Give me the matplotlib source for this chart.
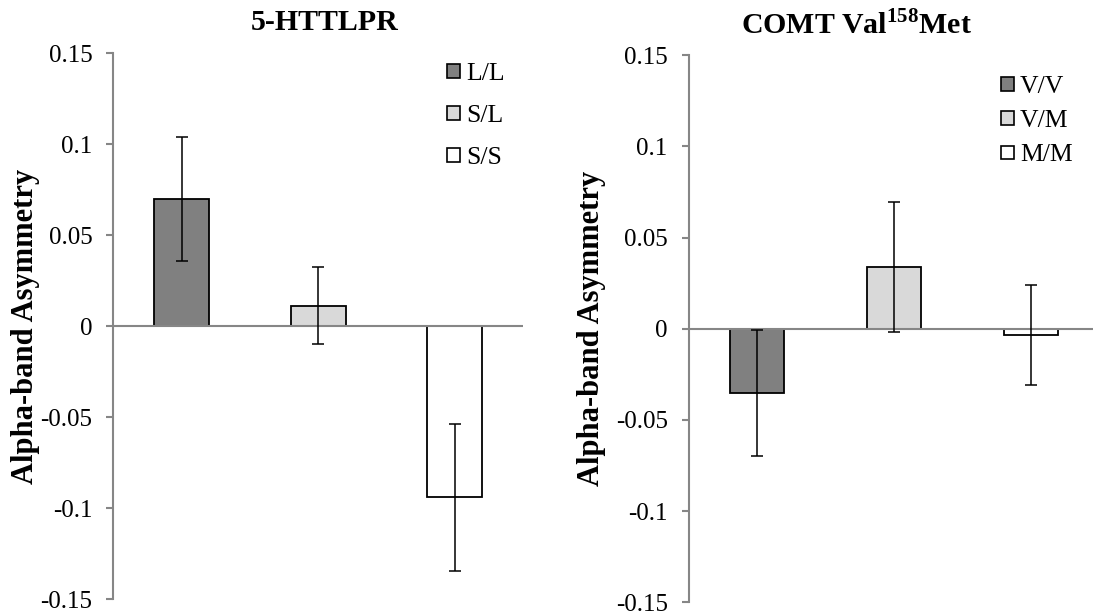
import matplotlib
matplotlib.use("Agg")
import matplotlib.pyplot as plt
from matplotlib.patches import Patch, Rectangle
from matplotlib.legend_handler import HandlerPatch

plt.rcParams['font.family'] = ['Liberation Serif', 'DejaVu Serif']
plt.rcParams['mathtext.fontset'] = 'custom'
plt.rcParams['mathtext.rm'] = 'Liberation Serif:bold'
plt.rcParams['mathtext.bf'] = 'Liberation Serif:bold'

# Data
httlpr_labels = ["L/L", "S/L", "S/S"]
httlpr_values = [0.070, 0.0113, -0.094]
httlpr_errors = [0.034, 0.0213, 0.0405]

comt_labels = ["V/V", "V/M", "M/M"]
comt_values = [-0.035, 0.034, -0.0035]
comt_errors = [0.0345, 0.0355, 0.0275]

bar_colors = ["#808080", "#d9d9d9", "#ffffff"]
yticks = [-0.15, -0.1, -0.05, 0, 0.05, 0.1, 0.15]
ytick_labels = ["-0.15", "-0.1", "-0.05", "0", "0.05", "0.1", "0.15"]

titles = ["5-HTTLPR", r"COMT Val$^{\mathbf{158}}$Met"]
ylabel = "Alpha-band Asymmetry"

W, H = 1093, 614
fig = plt.figure(figsize=(W / 100, H / 100), dpi=100)
ax1 = fig.add_axes([113.3 / W, 1 - 599.3 / H, 409.8 / W, 546.0 / H])
ax2 = fig.add_axes([688.5 / W, 1 - 602.3 / H, 411.0 / W, 547.0 / H])

spine_color = "#868686"
SQ = 9.4  # legend square size in points


def small_square(legend, orig_handle, xdescent, ydescent, width, height, fontsize):
    xc = -xdescent + width / 2
    yc = -ydescent + height / 2
    return Rectangle((xc - SQ / 2, yc - SQ / 2), SQ, SQ)


def draw(ax, labels, values, errors, title, title_xy, legend_xy, spacing, label_x):
    x = range(len(values))
    ax.bar(x, values, width=0.4, color=bar_colors, edgecolor="black", linewidth=1.3, zorder=2)
    ax.axhline(0, color=spine_color, lw=1.5, zorder=2.5)
    ax.errorbar(x, values, yerr=errors, fmt="none", ecolor="black", elinewidth=1.1,
                capsize=4.4, capthick=1.1, zorder=3)
    ax.set_xlim(-0.5, len(values) - 0.5)
    ax.set_ylim(-0.15, 0.15)
    ax.set_yticks(yticks)
    ax.set_yticklabels(ytick_labels, fontsize=18)
    ax.set_xticks([])
    for s in ["top", "right", "bottom"]:
        ax.spines[s].set_visible(False)
    ax.spines["left"].set_color(spine_color)
    ax.spines["left"].set_linewidth(1.5)
    ax.tick_params(axis="y", direction="out", length=5, width=1.5, color=spine_color, pad=10)
    ax.set_ylabel(ylabel, fontsize=22, fontweight="bold")
    ax.yaxis.set_label_coords(label_x, 0.5)
    fig.text(title_xy[0] / W, 1 - title_xy[1] / H, title, fontsize=21.5, fontweight="bold",
             ha="center", va="center")
    handles = [Patch(facecolor=c, edgecolor="black", linewidth=1.2) for c in bar_colors]
    ax.legend(handles, labels, loc="upper left",
              bbox_to_anchor=(legend_xy[0] / W, 1 - legend_xy[1] / H),
              bbox_transform=fig.transFigure, frameon=False,
              fontsize=18.5, handlelength=0.5, handletextpad=0.25,
              labelspacing=spacing, borderaxespad=0, borderpad=0,
              handler_map={Patch: HandlerPatch(patch_func=small_square)})


draw(ax1, httlpr_labels, httlpr_values, httlpr_errors, titles[0], (325, 23),
     (446.7, 62), 0.74, -0.18)
draw(ax2, comt_labels, comt_values, comt_errors, titles[1], (857, 25),
     (1000.7, 75), 0.43, -0.2)

fig.savefig("out.png", dpi=100)
